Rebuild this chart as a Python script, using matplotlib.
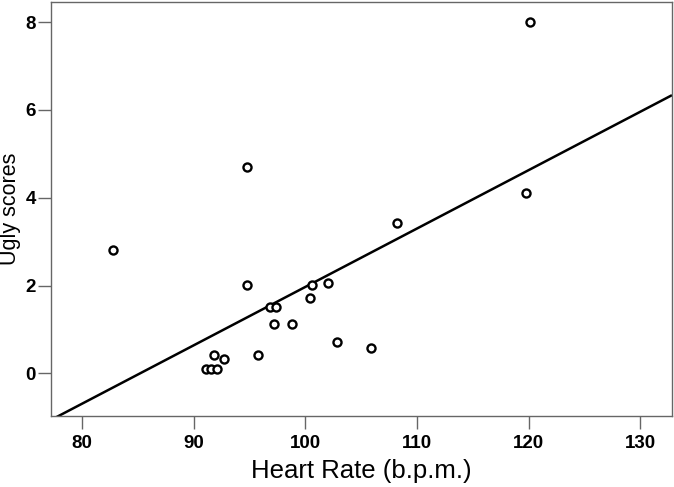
import numpy as np
import matplotlib
matplotlib.use("Agg")
import matplotlib.pyplot as plt

# Données
heart_rate = [82.8, 94.75, 94.75, 91.08, 91.56, 92.07, 91.83, 92.72, 95.8,
              96.82, 97.38, 97.2, 98.84, 100.43, 100.58, 102.0, 102.85,
              105.87, 108.2, 119.78, 120.08]
ugly_scores = [2.81, 4.71, 2.01, 0.11, 0.11, 0.11, 0.42, 0.32, 0.42,
               1.51, 1.51, 1.12, 1.12, 1.71, 2.01, 2.07, 0.72,
               0.57, 3.42, 4.12, 8.0]

# Droite de régression (pente, ordonnée à l'origine)
pente = 0.133
ordonnee = -11.33

x_ticks = [80, 90, 100, 110, 120, 130]
y_ticks = [0, 2, 4, 6, 8]

plt.rcParams["font.family"] = ["Liberation Sans", "DejaVu Sans"]

fig = plt.figure(figsize=(6.74, 4.87), dpi=100)
ax = fig.add_axes([0.0757, 0.1458, 0.9213, 0.8501])

x_min, x_max = 77.22, 132.84
y_min, y_max = -0.97, 8.46

x_ligne = np.array([x_min, x_max])
ax.plot(x_ligne, pente * x_ligne + ordonnee, color="black", linewidth=1.8,
        solid_capstyle="butt", zorder=2)

ax.plot(heart_rate, ugly_scores, "o", markersize=5.8, markerfacecolor="white",
        markeredgecolor="black", markeredgewidth=1.7, linestyle="none", zorder=3)

ax.set_xlim(x_min, x_max)
ax.set_ylim(y_min, y_max)
ax.set_xticks(x_ticks)
ax.set_yticks(y_ticks)

for spine in ax.spines.values():
    spine.set_color("#666666")
    spine.set_linewidth(1.0)

ax.tick_params(axis="both", length=9.4, width=1.0, color="#666666",
               labelsize=13.5)
ax.tick_params(axis="x", pad=4)
ax.tick_params(axis="y", pad=1.5)
for lab in ax.get_xticklabels() + ax.get_yticklabels():
    lab.set_fontweight("bold")

ax.set_xlabel("Heart Rate (b.p.m.)", fontsize=18.5, labelpad=5)
ax.set_ylabel("Ugly scores", fontsize=15.5)
ax.yaxis.set_label_coords(-0.0485, 0.5)

fig.savefig("out.png", dpi=100)
